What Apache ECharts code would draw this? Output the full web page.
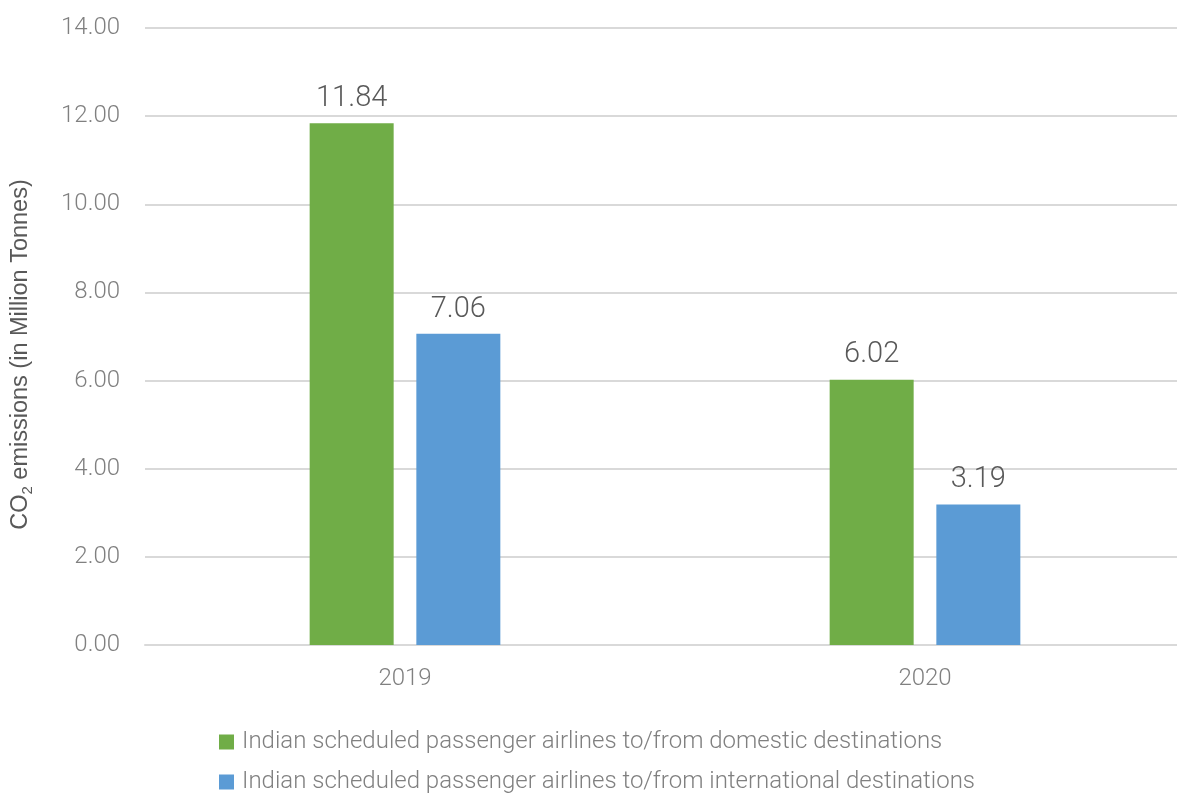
<!DOCTYPE html>
<html><head><meta charset="utf-8">
<script src="https://cdn.jsdelivr.net/npm/echarts@6/dist/echarts.min.js"></script>
<style>html,body{margin:0;padding:0;background:#fff}#c{width:1177px;height:793px}</style>
</head><body><div id="c"></div>
<script>
const categories = ['2019', '2020'];
const domesticName = 'Indian scheduled passenger airlines to/from domestic destinations';
const internationalName = 'Indian scheduled passenger airlines to/from international destinations';
const domestic = [11.84, 6.02];
const international = [7.06, 3.19];
const yMin = 0, yMax = 14, yStep = 2;

const chart = echarts.init(document.getElementById('c'), null, {renderer: 'canvas'});
const labelStyle = {show: true, position: 'top', distance: 10, fontFamily: 'Roboto', fontSize: 29, fontWeight: 300, color: '#595959', formatter: p => p.value.toFixed(2)};
chart.setOption({
  animation: false,
  grid: {left: 145, right: -8, top: 28, bottom: 148, containLabel: false, outerBoundsMode: 'none'},
  legend: {
    orient: 'vertical', left: 214, top: 725, height: 120, itemWidth: 15, itemHeight: 15, itemGap: 16,
    icon: 'rect', padding: 5,
    textStyle: {fontFamily: 'Roboto', fontSize: 24, fontWeight: 300, color: '#808080', padding: [0, 0, 0, 3]},
    data: [domesticName, internationalName]
  },
  xAxis: {
    type: 'category', data: categories,
    axisTick: {show: false},
    axisLine: {lineStyle: {color: '#d9d9d9', width: 2}},
    axisLabel: {fontFamily: 'Roboto', fontSize: 24, fontWeight: 300, color: '#808080', margin: 22}
  },
  yAxis: {
    type: 'value', min: yMin, max: yMax, interval: yStep,
    axisLabel: {fontFamily: 'Roboto', fontSize: 24, fontWeight: 300, color: '#808080', margin: 25, formatter: v => v.toFixed(2)},
    splitLine: {lineStyle: {color: '#d9d9d9', width: 2}},
    axisLine: {show: false}, axisTick: {show: false},
    name: '{n|CO}{s|2}{n| emissions (in Million Tonnes)}',
    nameLocation: 'middle', nameGap: 110, nameRotate: 90,
    nameTextStyle: {
      padding: [0, 36, 0, 0],
      rich: {
        n: {fontFamily: 'Liberation Sans', fontSize: 23.5, color: '#595959', lineHeight: 28},
        s: {fontFamily: 'Liberation Sans', fontSize: 15, color: '#595959', lineHeight: 28, verticalAlign: 'bottom', padding: [11, 0, 0, 0]}
      }
    }
  },
  series: [
    {name: domesticName, type: 'bar', data: domestic, barWidth: 84, barGap: '27%', itemStyle: {color: '#70AD47'}, label: labelStyle},
    {name: internationalName, type: 'bar', data: international, barWidth: 84, itemStyle: {color: '#5B9BD5'}, label: labelStyle}
  ]
});
</script></body></html>
